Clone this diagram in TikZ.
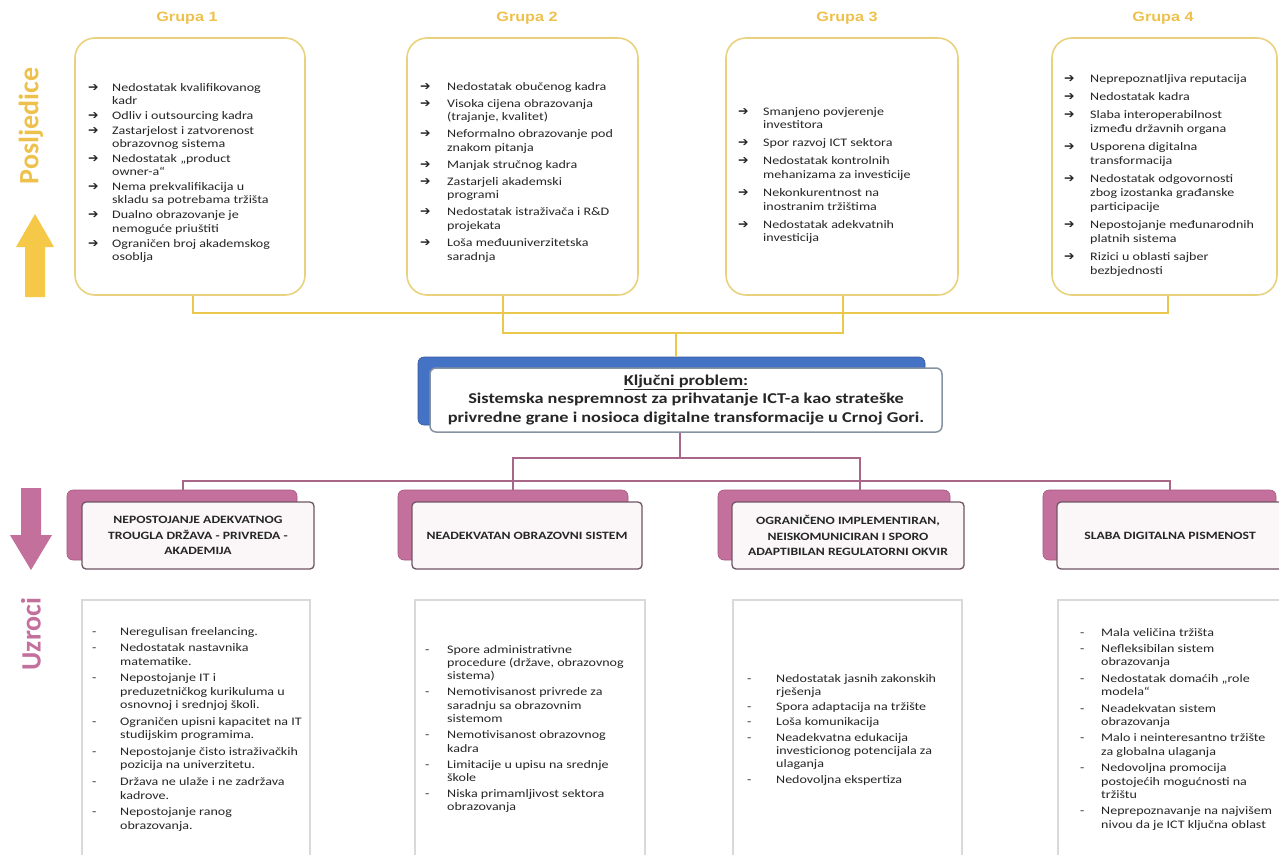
\documentclass[tikz,border=0pt]{standalone}
\usepackage{fontspec}
\setmainfont{Carlito}
\newfontfamily\bodyf[FakeStretch=1.22]{Carlito}
\newfontfamily\grpf[FakeStretch=1.2]{Liberation Sans}
\newfontfamily\symf{DejaVu Sans}
\newfontfamily\sidef{Carlito}
\usetikzlibrary{calc}
\definecolor{goldtxt}{HTML}{EDC14B}
\definecolor{goldline}{HTML}{E9C84C}
\definecolor{goldbox}{HTML}{E9D27E}
\definecolor{yarrowc}{HTML}{F6C847}
\definecolor{pinkc}{HTML}{C4709C}
\definecolor{pinkdark}{HTML}{A45A82}
\definecolor{pinkline}{HTML}{A86688}
\definecolor{cfront}{HTML}{FBF7F9}
\definecolor{cborder}{HTML}{6F5564}
\definecolor{keyblue}{HTML}{4472C4}
\definecolor{keyborder}{HTML}{8592A2}
\definecolor{ubox}{HTML}{D9D9D9}
\definecolor{txtc}{HTML}{262626}
\newlength\aw
\setlength\aw{25pt}
\newcommand\ar{\makebox[\aw][l]{\symf\fontsize{12.5}{10}\selectfont ➔}}
\newcommand\ind{\hspace*{\aw}}
\newcommand\ds{\makebox[\aw][l]{-}}
\tikzset{
  topbox/.style={draw=goldbox, line width=1.6pt, rounded corners=20pt, fill=white, inner sep=0pt},
  grp/.style={text=goldtxt, font=\grpf\bfseries\fontsize{13.5}{16}\selectfont, inner sep=0pt},
  body/.style={anchor=north west, inner sep=0pt, align=left, text=txtc},
  yconn/.style={draw=goldline, line width=2pt},
  pconn/.style={draw=pinkline, line width=1.6pt},
  keysh/.style={fill=keyblue, draw=keyblue!80!black, line width=0.6pt, rounded corners=6pt, inner sep=0pt},
  keyfront/.style={fill=white, draw=keyborder, line width=1.5pt, rounded corners=6pt, inner sep=0pt, align=center, text=txtc,
     font=\bodyf\bfseries\fontsize{15}{18.5}\selectfont},
  csh/.style={fill=pinkc, draw=pinkdark, line width=0.6pt, rounded corners=6pt, inner sep=0pt},
  cfr/.style={fill=cfront, draw=cborder, line width=1.3pt, rounded corners=4pt, inner sep=0pt, align=center, text=txtc,
     font=\bodyf\bfseries\fontsize{11.2}{15.5}\selectfont},
  ubx/.style={draw=ubox, line width=1.2pt, inner sep=0pt},
  side/.style={rotate=90, inner sep=0pt, font=\sidef\bfseries\fontsize{28}{30}\selectfont}
}
\begin{document}
\begin{tikzpicture}[x=1pt,y=-1pt]
\useasboundingbox (0,0) rectangle (1279,854);
\fill[white] (0,0) rectangle (1279,854);

% side labels and arrows
\node[side, text=goldtxt] (posl) at (31,126) {Posljedice};
\fill[yarrowc] (25,297) -- (25,247) -- (16,247) -- (35,214) -- (54,247) -- (45,247) -- (45,297) -- cycle;
\fill[pinkc] (21,488) -- (41,488) -- (41,535) -- (52,535) -- (31,570) -- (10,535) -- (21,535) -- cycle;
\node[side, text=pinkc] (uzr) at (31,634) {Uzroci};

% group labels
\node[grp] (gl1) at (187,18) {Grupa 1};
\node[grp] (gl2) at (527,18) {Grupa 2};
\node[grp] (gl3) at (847,18) {Grupa 3};
\node[grp] (gl4) at (1163,18) {Grupa 4};

% top boxes
\node[topbox, minimum width=230, minimum height=257] (g1) at (190,166.5) {};
\node[topbox, minimum width=231, minimum height=257] (g2) at (522.5,166.5) {};
\node[topbox, minimum width=232, minimum height=257] (g3) at (842,166.5) {};
\node[topbox, minimum width=225, minimum height=257] (g4) at (1164.5,166.5) {};

\node[body, font={\bodyf\fontsize{11.5}{13.3}\selectfont\setlength\aw{24pt}}] (t1) at (88,83) {%
\ar Nedostatak kvalifikovanog\\ \ind kadr\\[1.6pt]
\ar Odliv i outsourcing kadra\\[1.6pt]
\ar Zastarjelost i zatvorenost\\ \ind obrazovnog sistema\\[1.6pt]
\ar Nedostatak „product\\ \ind owner-a“\\[1.6pt]
\ar Nema prekvalifikacija u\\ \ind skladu sa potrebama tržišta\\[1.6pt]
\ar Dualno obrazovanje je\\ \ind nemoguće priuštiti\\[1.6pt]
\ar Ograničen broj akademskog\\ \ind osoblja};

\node[body, font={\bodyf\fontsize{11.5}{13.6}\selectfont\setlength\aw{27pt}}] (t2) at (420,82) {%
\ar Nedostatak obučenog kadra\\[3.4pt]
\ar Visoka cijena obrazovanja\\ \ind (trajanje, kvalitet)\\[3.4pt]
\ar Neformalno obrazovanje pod\\ \ind znakom pitanja\\[3.4pt]
\ar Manjak stručnog kadra\\[3.4pt]
\ar Zastarjeli akademski\\ \ind programi\\[3.4pt]
\ar Nedostatak istraživača i R\&D\\ \ind projekata\\[3.4pt]
\ar Loša međuuniverzitetska\\ \ind saradnja};

\node[body, font={\bodyf\fontsize{11.5}{13.6}\selectfont\setlength\aw{25pt}}] (t3) at (738,107) {%
\ar Smanjeno povjerenje\\ \ind investitora\\[4.5pt]
\ar Spor razvoj ICT sektora\\[4.5pt]
\ar Nedostatak kontrolnih\\ \ind mehanizama za investicije\\[4.5pt]
\ar Nekonkurentnost na\\ \ind inostranim tržištima\\[4.5pt]
\ar Nedostatak adekvatnih\\ \ind investicija};

\node[body, font={\bodyf\fontsize{11.5}{14}\selectfont\setlength\aw{26pt}}] (t4) at (1064,74) {%
\ar Neprepoznatljiva reputacija\\[4pt]
\ar Nedostatak kadra\\[4pt]
\ar Slaba interoperabilnost\\ \ind između državnih organa\\[4pt]
\ar Usporena digitalna\\ \ind transformacija\\[4pt]
\ar Nedostatak odgovornosti\\ \ind zbog izostanka građanske\\ \ind participacije\\[4pt]
\ar Nepostojanje međunarodnih\\ \ind platnih sistema\\[4pt]
\ar Rizici u oblasti sajber\\ \ind bezbjednosti};

% key problem
\node[keysh, minimum width=507, minimum height=68] (ksh) at (671.5,391) {};
\node[keyfront, minimum width=512, minimum height=64] (key) at (686,400) {%
\underline{Ključni problem:}\\
Sistemska nespremnost za prihvatanje ICT-a kao strateške\\
privredne grane i nosioca digitalne transformacije u Crnoj Gori.};

% top connectors
\coordinate (t1c) at (193,313);
\coordinate (t4c) at (1168,313);
\coordinate (t2c) at (503,333);
\coordinate (t3c) at (843,333);
\coordinate (tkc) at (676,333);
\draw[yconn] (g1.south -| t1c) -- (t1c) -- (t4c) -- (g4.south -| t4c);
\draw[yconn] (g2.south -| t2c) -- (t2c) -- (t3c) -- (g3.south -| t3c);
\draw[yconn] (tkc) -- (ksh.north -| tkc);

% cause boxes
\node[csh, minimum width=230, minimum height=70] (c1s) at (182,525) {};
\node[cfr, minimum width=232, minimum height=67] (c1) at (198,535.5) {NEPOSTOJANJE ADEKVATNOG\\TROUGLA DRŽAVA - PRIVREDA -\\AKADEMIJA};
\node[csh, minimum width=230, minimum height=70] (c2s) at (513,525) {};
\node[cfr, minimum width=230, minimum height=67] (c2) at (527,535.5) {NEADEKVATAN OBRAZOVNI SISTEM};
\node[csh, minimum width=232, minimum height=70] (c3s) at (834,525) {};
\node[cfr, minimum width=232, minimum height=67] (c3) at (848,535.5) {OGRANIČENO IMPLEMENTIRAN,\\NEISKOMUNICIRAN I SPORO\\ADAPTIBILAN REGULATORNI OKVIR};
\node[csh, minimum width=233, minimum height=70] (c4s) at (1159.5,525) {};
\node[cfr, minimum width=226, minimum height=67] (c4) at (1170,535.5) {SLABA DIGITALNA PISMENOST};

% bottom connectors
\coordinate (bkc) at (680,458);
\coordinate (b2c) at (513,458);
\coordinate (b3c) at (860,458);
\coordinate (b1c) at (183,481);
\coordinate (b4c) at (1170,481);
\draw[pconn] (key.south -| bkc) -- (bkc);
\draw[pconn] (c2s.north -| b2c) -- (b2c) -- (b3c) -- (c3s.north -| b3c);
\draw[pconn] (c1s.north -| b1c) -- (b1c) -- (b4c) -- (c4s.north -| b4c);

% cause lists
\node[ubx, minimum width=228, minimum height=260] (u1) at (196,730) {};
\node[ubx, minimum width=230, minimum height=260] (u2) at (530,730) {};
\node[ubx, minimum width=229, minimum height=260] (u3) at (847.5,730) {};
\node[ubx, minimum width=232, minimum height=260] (u4) at (1174,730) {};

\node[body, font={\bodyf\fontsize{11.5}{13.4}\selectfont\setlength\aw{28pt}}] (l1) at (92,627) {%
\ds Neregulisan freelancing.\\[3.3pt]
\ds Nedostatak nastavnika\\ \ind matematike.\\[3.3pt]
\ds Nepostojanje IT i\\ \ind preduzetničkog kurikuluma u\\ \ind osnovnoj i srednjoj školi.\\[3.3pt]
\ds Ograničen upisni kapacitet na IT\\ \ind studijskim programima.\\[3.3pt]
\ds Nepostojanje čisto istraživačkih\\ \ind pozicija na univerzitetu.\\[3.3pt]
\ds Država ne ulaže i ne zadržava\\ \ind kadrove.\\[3.3pt]
\ds Nepostojanje ranog\\ \ind obrazovanja.};

\node[body, font={\bodyf\fontsize{11.5}{13.4}\selectfont\setlength\aw{22pt}}] (l2) at (425,645) {%
\ds Spore administrativne\\ \ind procedure (države, obrazovnog\\ \ind sistema)\\[2.6pt]
\ds Nemotivisanost privrede za\\ \ind saradnju sa obrazovnim\\ \ind sistemom\\[2.6pt]
\ds Nemotivisanost obrazovnog\\ \ind kadra\\[2.6pt]
\ds Limitacije u upisu na srednje\\ \ind škole\\[2.6pt]
\ds Niska primamljivost sektora\\ \ind obrazovanja};

\node[body, font={\bodyf\fontsize{11.5}{13.4}\selectfont\setlength\aw{29pt}}] (l3) at (747,674) {%
\ds Nedostatak jasnih zakonskih\\ \ind rješenja\\[1.8pt]
\ds Spora adaptacija na tržište\\[1.8pt]
\ds Loša komunikacija\\[1.8pt]
\ds Neadekvatna edukacija\\ \ind investicionog potencijala za\\ \ind ulaganja\\[1.8pt]
\ds Nedovoljna ekspertiza};

\node[body, font={\bodyf\fontsize{11.5}{13.4}\selectfont\setlength\aw{21pt}}] (l4) at (1080,628) {%
\ds Mala veličina tržišta\\[3pt]
\ds Nefleksibilan sistem\\ \ind obrazovanja\\[3pt]
\ds Nedostatak domaćih „role\\ \ind modela“\\[3pt]
\ds Neadekvatan sistem\\ \ind obrazovanja\\[3pt]
\ds Malo i neinteresantno tržište\\ \ind za globalna ulaganja\\[3pt]
\ds Nedovoljna promocija\\ \ind postojećih mogućnosti na\\ \ind tržištu\\[3pt]
\ds Neprepoznavanje na najvišem\\ \ind nivou da je ICT ključna oblast};
\end{tikzpicture}
\end{document}
